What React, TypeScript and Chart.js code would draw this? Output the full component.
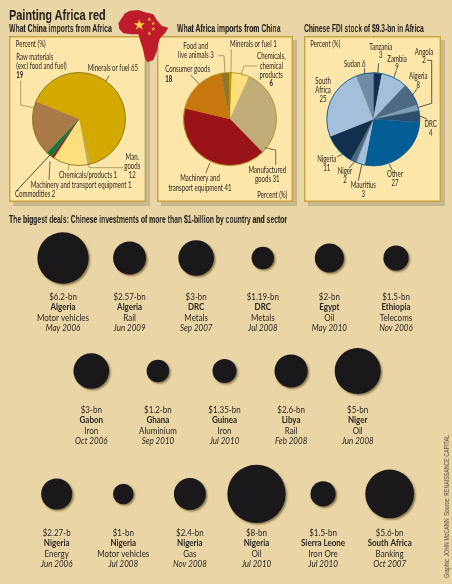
import React, { useEffect, useRef } from "react";
import { Chart, registerables } from "chart.js";

Chart.register(...registerables);

// ---------- data ----------
const chinaImportLabels = ["Minerals or fuel", "Chemicals/products", "Man. goods", "Machinery and transport equipment", "Commodities", "Raw materials"];
const chinaImportValues = [65, 1, 12, 1, 2, 19];
const chinaImportColors = ["#d3a900", "#bfa75e", "#fde07e", "#98201f", "#0b7a3e", "#a97a48"];

const africaImportLabels = ["Minerals or fuel", "Chemicals, chemical products", "Manufactured goods", "Machinery and transport equipment", "Consumer goods", "Food and live animals"];
const africaImportValues = [1, 6, 31, 41, 18, 3];
const africaImportColors = ["#c9a100", "#fde07e", "#c0ad78", "#9a1319", "#c9770f", "#8f7628"];

const fdiLabels = ["Tanzania", "Zambia", "Algeria", "Angola", "DRC", "Other", "Mauritius", "Niger", "Nigeria", "South Africa", "Sudan"];
const fdiValues = [3, 9, 8, 2, 4, 27, 3, 2, 11, 25, 6];
const fdiColors = ["#12304e", "#a4bfdb", "#4d6984", "#7d9cba", "#2f4d6c", "#025e94", "#a4bfdb", "#4d6984", "#12304e", "#a4bfdb", "#6f8ba6"];

const dealAmounts = ["$6.2-bn", "$2.57-bn", "$3-bn", "$1.19-bn", "$2-bn", "$1.5-bn", "$3-bn", "$1.2-bn", "$1.35-bn", "$2.6-bn", "$5-bn", "$2.27-b", "$1-bn", "$2.4-bn", "$8-bn", "$1.5-bn", "$5.6-bn"];
const dealValues = [6.2, 2.57, 3, 1.19, 2, 1.5, 3, 1.2, 1.35, 2.6, 5, 2.27, 1, 2.4, 8, 1.5, 5.6];
const dealCountries = ["Algeria", "Algeria", "DRC", "DRC", "Egypt", "Ethiopia", "Gabon", "Ghana", "Guinea", "Libya", "Niger", "Nigeria", "Nigeria", "Nigeria", "Nigeria", "Sierra Leone", "South Africa"];
const dealSectors = ["Motor vehicles", "Rail", "Metals", "Metals", "Oil", "Telecoms", "Iron", "Aluminium", "Iron", "Rail", "Oil", "Energy", "Motor vehicles", "Gas", "Oil", "Iron Ore", "Banking"];
const dealDates = ["May 2006", "Jun 2009", "Sep 2007", "Jul 2008", "May 2010", "Nov 2006", "Oct 2006", "Sep 2010", "Jul 2010", "Feb 2008", "Jun 2008", "Jun 2006", "Jul 2008", "Nov 2008", "Jul 2010", "Jul 2010", "Oct 2007"];
const rowSizes = [6, 5, 6];

// ---------- layout ----------
const SANS = '"Liberation Sans", sans-serif';
const BODY = 'Lato, "Open Sans", sans-serif';
const INK = "#2b2722";

type Lbl = [string, number, number, "left" | "center" | "right", boolean?];
type PieCfg = {
  box: [number, number, number, number];
  center: [number, number];
  radius: number;
  rotation: number;
  labels: string[];
  values: number[];
  colors: string[];
  border: string;
  text: Lbl[];
  leaders: { pts: number[]; color: string }[];
};

const tan = "#9c8a55";
const pies: PieCfg[] = [
  {
    box: [9, 36, 137, 166], center: [79, 119], radius: 46.5, rotation: 292,
    labels: chinaImportLabels, values: chinaImportValues, colors: chinaImportColors, border: "#8a7426",
    text: [
      ["Percent (%)", 15.7, 43.7, "left"],
      ["Raw materials", 16.3, 57.3, "left"],
      ["(excl food and fuel)", 16.3, 65.7, "left"],
      ["19", 16.3, 75, "left", true],
      ["Minerals or fuel 65", 138, 67.7, "right"],
      ["Man.", 132.3, 157.3, "center"],
      ["goods", 132.3, 166, "center"],
      ["12", 132.3, 174.7, "center"],
      ["Chemicals/products 1", 59, 174.7, "left"],
      ["Machinery and transport equipment 1", 30.7, 184.7, "left"],
      ["Commodities 2", 15, 194, "left"],
    ],
    leaders: [
      { pts: [109, 75.7, 106, 81], color: "#5a4a10" },
      { pts: [20.7, 80.7, 20.7, 105, 33.3, 107.7], color: tan },
      { pts: [88.3, 163.3, 89.3, 167.7, 123.3, 167.7], color: tan },
      { pts: [69, 165, 68, 170], color: tan },
      { pts: [50, 161, 49, 180], color: "#5a4a30" },
      { pts: [50, 155, 16.7, 190.7], color: "#222" },
    ],
  },
  {
    box: [157, 36, 136, 166], center: [230, 119], radius: 46.5, rotation: -1,
    labels: africaImportLabels, values: africaImportValues, colors: africaImportColors, border: "#b3931f",
    text: [
      ["Food and", 195.7, 45.7, "center"],
      ["live animals 3", 178, 55.3, "left"],
      ["Minerals or fuel 1", 230, 44.3, "left"],
      ["Chemicals,", 271.3, 56.3, "center"],
      ["chemical", 271.3, 65.7, "center"],
      ["products", 271.3, 74.7, "center"],
      ["6", 271.3, 83.3, "center", true],
      ["Consumer goods", 165.3, 69.3, "left"],
      ["18", 165.3, 79, "left", true],
      ["Manufactured", 267.3, 170, "center"],
      ["goods 31", 267.3, 179, "center"],
      ["Machinery and", 200, 178.3, "center"],
      ["transport equipment 41", 200, 187.7, "center"],
      ["Percent (%)", 287.3, 194.7, "right"],
    ],
    leaders: [
      { pts: [218.3, 55.7, 224, 55.7, 225, 72.7], color: tan },
      { pts: [231.3, 49.3, 231, 72.7], color: tan },
      { pts: [257.3, 66, 244, 66, 241, 74], color: tan },
      { pts: [190.7, 75, 199.3, 84], color: "#5a4a30" },
      { pts: [265, 147.7, 275.7, 150, 275.7, 165], color: "#5a4a30" },
      { pts: [210, 162.7, 205.7, 173.3], color: "#5a4a30" },
    ],
  },
  {
    box: [304, 36, 137, 166], center: [373.3, 119.3], radius: 46.5, rotation: 0,
    labels: fdiLabels, values: fdiValues, colors: fdiColors, border: "#0a5c90",
    text: [
      ["Percent (%)", 310.3, 44, "left"],
      ["Tanzania", 380.7, 46.7, "center"],
      ["3", 380.7, 55, "center"],
      ["Zambia", 397, 58.7, "center"],
      ["9", 397, 67, "center"],
      ["Sudan 6", 344, 63.7, "left"],
      ["Angola", 424, 51.7, "center"],
      ["2", 424, 60.3, "center"],
      ["Algeria", 418.3, 75.7, "center"],
      ["8", 418.3, 85, "center"],
      ["South", 323, 81, "center"],
      ["Africa", 323, 89.7, "center"],
      ["25", 323, 99.3, "center"],
      ["DRC", 430.7, 124.3, "center"],
      ["4", 430.7, 133.3, "center"],
      ["Nigeria", 326.7, 159, "center"],
      ["11", 326.7, 168, "center"],
      ["Other", 395, 174, "center"],
      ["27", 395, 183, "center"],
      ["Niger", 345, 170.7, "center"],
      ["2", 345, 180, "center"],
      ["Mauritius", 363.3, 185, "center"],
      ["3", 363.3, 194, "center"],
    ],
    leaders: [
      { pts: [378.7, 63.3, 377.7, 73.3], color: "#333" },
      { pts: [396.3, 70.7, 393.7, 77.7], color: "#333" },
      { pts: [364.3, 68.3, 365, 74], color: "#333" },
      { pts: [426.7, 60.3, 431.7, 60.3, 431.7, 103.3, 418.3, 107.3], color: "#333" },
      { pts: [417.3, 88.3, 412.3, 95], color: "#333" },
      { pts: [420, 116, 427.3, 119.3], color: "#333" },
      { pts: [337.3, 156.7, 343, 154], color: "#333" },
      { pts: [389, 164, 392.3, 170], color: "#333" },
      { pts: [349, 168.3, 354, 162.3], color: "#333" },
      { pts: [358.3, 180.7, 361.7, 165], color: "#333" },
    ],
  },
];

function PieChart({ cfg }: { cfg: PieCfg }) {
  const ref = useRef<HTMLCanvasElement>(null);
  useEffect(() => {
    const [bx, by, bw, bh] = cfg.box;
    const cx = cfg.center[0] - bx;
    const cy = cfg.center[1] - by;
    const R = cfg.radius;
    const labelPlugin = {
      id: "pieLabels",
      afterDraw(chart: any) {
        const c = chart.ctx;
        c.save();
        const arc = chart.getDatasetMeta(0).data[0];
        c.lineWidth = 0.9;
        c.strokeStyle = cfg.border;
        c.beginPath();
        c.arc(arc.x, arc.y, arc.outerRadius, 0, Math.PI * 2);
        c.stroke();
        c.lineWidth = 0.8;
        cfg.leaders.forEach((l) => {
          c.strokeStyle = l.color;
          c.beginPath();
          for (let i = 0; i < l.pts.length; i += 2) {
            const x = l.pts[i] - bx;
            const y = l.pts[i + 1] - by;
            if (i === 0) c.moveTo(x, y);
            else c.lineTo(x, y);
          }
          c.stroke();
        });
        c.fillStyle = INK;
        c.textBaseline = "middle";
        cfg.text.forEach(([t, x, y, align, bold]) => {
          c.font = `${bold ? "bold " : ""}9.2px ${BODY}`;
          c.textAlign = align;
          c.save();
          c.translate(x - bx, y - by);
          c.scale(0.66, 1);
          c.fillText(t, 0, 0);
          c.restore();
        });
        c.restore();
      },
    };
    const chart = new Chart(ref.current!, {
      type: "pie",
      data: {
        labels: cfg.labels,
        datasets: [{ data: cfg.values, backgroundColor: cfg.colors, borderColor: cfg.colors, borderWidth: 0.3 }],
      },
      options: {
        animation: false,
        responsive: false,
        rotation: cfg.rotation,
        layout: { padding: { left: cx - R - 0.15, right: bw - cx - R - 0.15, top: cy - R - 0.15, bottom: bh - cy - R - 0.15 } },
        plugins: { legend: { display: false }, tooltip: { enabled: false } },
      },
      plugins: [labelPlugin],
    } as any);
    return () => chart.destroy();
  }, [cfg]);
  const [x, y, w, h] = cfg.box;
  return (
    <div style={{ position: "absolute", left: x, top: y, width: w, height: h, boxSizing: "border-box", background: "#fde6a9", boxShadow: "0 0 0 1.4px #c6a441 inset, 4px 4px 0 #c8b88f" }}>
      <canvas ref={ref} width={w} height={h} style={{ display: "block", position: "absolute", left: 0, top: 0 }} />
    </div>
  );
}

function Deals() {
  const ref = useRef<HTMLCanvasElement>(null);
  useEffect(() => {
    const rowShift = [0, 0.425, -0.095];
    const rowPos = [0, 1, 2.088];
    const points: { x: number; y: number; r: number }[] = [];
    let k = 0;
    rowSizes.forEach((n, row) => {
      for (let i = 0; i < n; i++, k++) {
        points.push({ x: i + rowShift[row], y: rowPos[row], r: Math.sqrt(dealValues[k]) * 10.3 });
      }
    });
    const shadow = {
      id: "discShadow",
      beforeDatasetDraw(chart: any) {
        const c = chart.ctx;
        c.save();
        c.shadowColor = "rgba(90,70,30,0.65)";
        c.shadowBlur = 2;
        c.shadowOffsetX = 1.5;
        c.shadowOffsetY = 1.5;
      },
      afterDatasetDraw(chart: any) {
        chart.ctx.restore();
      },
    };
    const captions = {
      id: "captions",
      afterDraw(chart: any) {
        const c = chart.ctx;
        const xs = chart.scales.x;
        const ys = chart.scales.y;
        c.save();
        c.textAlign = "center";
        c.textBaseline = "middle";
        c.fillStyle = INK;
        const line = (t: string, x: number, y: number, font: string) => {
          c.font = font;
          c.save();
          c.translate(x, y);
          c.scale(0.93, 1);
          c.fillText(t, 0, 0);
          c.restore();
        };
        points.forEach((p, i) => {
          const x = xs.getPixelForValue(p.x);
          const y = ys.getPixelForValue(p.y) + 39.3;
          line(dealAmounts[i], x, y, `8.6px ${BODY}`);
          line(dealCountries[i], x, y + 10.3, `bold 8.6px ${BODY}`);
          line(dealSectors[i], x, y + 20.6, `8.6px ${BODY}`);
          line(dealDates[i], x, y + 30.9, `italic 8.6px ${BODY}`);
        });
        c.restore();
      },
    };
    const chart = new Chart(ref.current!, {
      type: "bubble",
      data: {
        labels: dealCountries,
        datasets: [{ data: points, backgroundColor: "#1a181b", borderWidth: 0, clip: false }],
      },
      options: {
        animation: false,
        responsive: false,
        layout: { padding: 0, autoPadding: false },
        scales: {
          x: { type: "linear", display: false, min: -0.946, max: 5.841 },
          y: { type: "linear", display: false, reverse: true, min: -0.469, max: 2.885 },
        },
        plugins: { legend: { display: false }, tooltip: { enabled: false } },
      },
      plugins: [shadow, captions],
    } as any);
    return () => chart.destroy();
  }, []);
  return <canvas ref={ref} width={452} height={379} style={{ position: "absolute", left: 0, top: 205, display: "block" }} />;
}

function fitScale(text: string, font: string, width: number) {
  const c = document.createElement("canvas").getContext("2d")!;
  c.font = font;
  return width / c.measureText(text).width;
}

const heading = (text: string, left: number, top: number, size: number, width: number): React.ReactElement => (
  <div style={{ position: "absolute", left, top, fontFamily: SANS, fontWeight: 700, fontSize: size, lineHeight: `${size + 2}px`, whiteSpace: "nowrap", color: "#1e1b18", transformOrigin: "0 0", willChange: "transform", zIndex: 3, transform: `scaleX(${fitScale(text, `bold ${size}px ${SANS}`, width)})` }}>{text}</div>
);

function star(cx: number, cy: number, r: number) {
  const pts: string[] = [];
  for (let i = 0; i < 10; i++) {
    const a = -Math.PI / 2 + (i * Math.PI) / 5;
    const rr = i % 2 ? r * 0.4 : r;
    pts.push(`${(cx + rr * Math.cos(a)).toFixed(1)},${(cy + rr * Math.sin(a)).toFixed(1)}`);
  }
  return pts.join(" ");
}

const credit = "Graphic: JOHN McCANN  Source: RENAISSANCE CAPITAL";

export default function App() {
  useEffect(() => {
    document.body.style.margin = "0";
  }, []);
  return (
    <div style={{ position: "absolute", left: 0, top: 0, width: 452, height: 584, overflow: "hidden", background: "#e9d5a5" }}>
      {heading("Painting Africa red", 9, 6, 15.5, 97)}
      {heading("What China imports from Africa", 9, 23, 10, 103)}
      {heading("What Africa imports from China", 177, 23, 10, 103.7)}
      {heading("Chinese FDI stock of $9.3-bn in Africa", 304, 23, 10, 120)}
      {heading("The biggest deals: Chinese investments of more than $1-billion by country and sector", 9, 213.5, 10, 278)}
      {pies.map((p, i) => (
        <PieChart key={i} cfg={p} />
      ))}
      <Deals />
      <svg viewBox="0 0 180 180" width={60} height={60} style={{ position: "absolute", left: 110, top: 5 }}>
        <polygon fill="#be1c2b" points="25,55 45,25 60,17 85,15 105,22 130,28 140,45 155,62 175,68 165,85 150,100 145,115 142,135 130,165 112,172 105,160 98,130 90,105 85,88 65,88 40,85 28,72" />
        <polygon fill="#f6d33c" points={star(88, 60, 17)} />
        <polygon fill="#f6d33c" points={star(118, 43, 6)} />
        <polygon fill="#f6d33c" points={star(130, 55, 6)} />
        <polygon fill="#f6d33c" points={star(130, 72, 6)} />
        <polygon fill="#f6d33c" points={star(118, 85, 6)} />
      </svg>
      <div style={{ position: "absolute", left: 441.5, top: 578, fontFamily: SANS, fontSize: 6.6, lineHeight: "9px", whiteSpace: "pre", color: "#4a4436", transformOrigin: "0 0", willChange: "transform", transform: `rotate(-90deg) scaleX(${fitScale(credit, `6.6px ${SANS}`, 143)})` }}>
        {credit}
      </div>
    </div>
  );
}
